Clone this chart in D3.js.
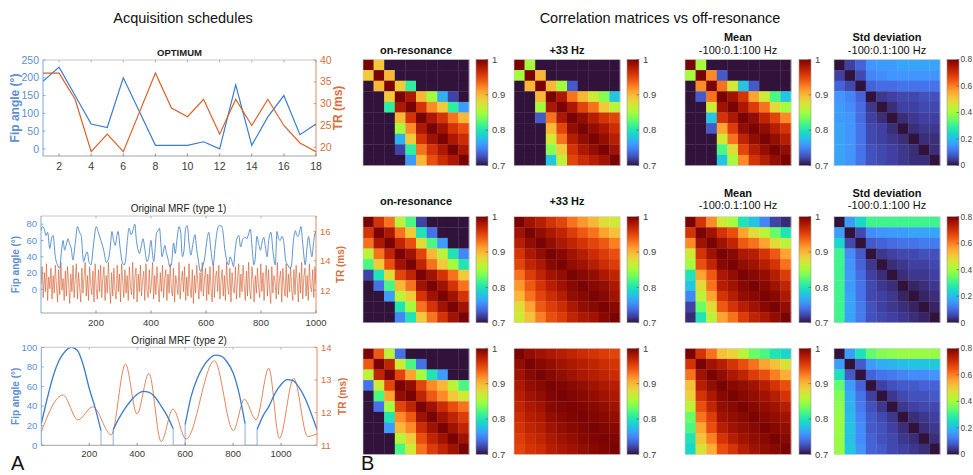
<!DOCTYPE html>
<html><head><meta charset="utf-8">
<script src="https://cdn.jsdelivr.net/npm/d3@7"></script>
<style>body{margin:0;background:#fff;} text{font-family:"Liberation Sans",Arial,Helvetica,sans-serif;}</style>
</head><body><svg id="c" width="973" height="475"></svg>
<script>
// ===== DATA =====
const optX  = [1,2,3,4,5,6,7,8,9,10,11,12,13,14,15,16,17,18];
const optFA = [190,230,150,70,60,200,105,10,10,10,20,0,180,10,90,150,40,70];
const optTR = [37,37,31,19,23,19,28,37,29,27,31,23,31,25,31,25,21,19];

const fa1T = [0,5,12,18,24,32,38,44,52,60,68,74,80,86,92,98,104,110,116,124,133,140,146,155,162,168,175,182,190,201,210,218,228,238,246,252,258,264,270,276,280,288,295,302,308,314,320,328,334,341,347,352,358,364,371,378,385,392,400,405,410,415,420,426,431,436,440,445,450,456,462,468,474,482,488,494,502,508,514,520,526,532,538,545,552,560,566,572,580,588,596,604,610,618,626,634,642,648,656,662,668,675,682,688,694,700,706,712,719,726,734,742,748,755,761,768,774,779,785,792,798,804,810,816,822,828,836,844,852,858,864,870,876,882,890,897,904,910,918,925,930,935,941,945,952,961,967,973,979,985,992,998,1000];
const fa1V = [72,77,74,66,70,50,62,66,40,30,26,45,60,48,55,62,56,50,36,55,77,70,66,34,42,46,33,30,52,77,68,60,48,33,38,52,71,60,54,66,71,50,34,30,37,60,75,67,72,80,60,50,44,52,62,48,34,40,60,45,34,50,69,72,75,55,40,46,54,45,37,28,30,57,44,60,77,70,40,48,75,78,58,42,55,67,50,36,22,28,40,62,70,48,30,55,74,78,78,70,50,36,30,40,35,28,48,62,66,52,62,64,62,68,74,50,30,38,65,55,48,58,64,52,40,60,70,45,30,71,62,60,65,60,35,30,26,28,60,72,66,65,72,77,55,30,50,65,52,40,60,70,68];
const tr1V = [
12.4,13.6,11.5,13.2,11.9,13.8,11.3,12.9,12.1,13.5,
11.4,13.0,11.8,13.7,12.3,11.2,13.4,11.7,13.9,12.0,
12.8,11.3,13.3,11.6,13.6,12.5,11.1,13.1,11.9,13.7,
11.5,12.7,13.8,11.4,13.2,12.2,11.2,13.5,11.8,12.9,
13.9,11.6,13.0,11.3,13.6,12.4,11.7,13.3,11.2,13.8,
12.1,11.4,13.4,11.9,13.7,11.5,12.8,13.6,11.3,13.0,
11.8,13.9,12.3,11.1,13.2,11.6,13.5,12.0,11.4,13.7,
11.9,13.1,11.2,13.8,12.6,11.5,13.4,11.8,13.0,11.3,
13.6,12.2,11.7,13.9,11.4,12.9,13.5,11.2,13.1,11.9,
13.7,11.6,12.7,13.3,11.3,13.8,12.0,11.5,13.4,11.8,
12.5,13.9,11.4,13.0,11.7,13.6,12.3,11.2,13.2,11.9,
13.7,11.5,12.8,13.4,11.3,13.1,11.8,13.8,12.1,11.6,
13.5,11.2,13.0,12.4,11.7,13.9,11.4,12.6,13.3,11.9,
13.6,11.3,12.9,11.6,13.8,12.2,11.5,13.4,11.1,13.0,
11.8,13.7,12.5,11.4,13.2,11.9,13.9,11.6,12.7,13.5,
11.3,13.1,11.7,13.6,12.0,11.2,13.8,11.5,12.9,13.3,
11.9,13.7,11.4,12.6,13.4,11.6,13.0,11.3,13.9,12.3,
11.7,13.5,11.2,13.2,12.1,11.8,13.6,11.4,12.8,13.8,
11.5,13.1,11.9,13.7,12.4,11.3,13.3,11.6,13.9,12.0,
11.4,13.6,12.7,11.2,13.0,11.8,13.5,12.2,11.5,13.8,
11.9,13.2,11.3,12.9,13.7,11.6,13.4,12.1,11.1,13.6,
11.8,13.0,12.5,11.4,13.9,11.7,12.8,13.3,11.2,13.5,
12.3,11.6,13.8,11.5,13.1,11.9,13.6,12.0,11.3,13.4,
11.7,13.7,12.6,11.2,13.2,11.8,13.9,11.4,12.9,13.5,
11.6,13.0,11.3,13.8,12.2,11.9,13.4,11.5,13.6,12.4];

const fa2T = [
 [0,25,50,75,100,125,150,175,200,225,249],
 [300,325,350,375,400,425,450,475,500,525,550],
 [600,625,650,675,700,725,750,775,800,825,850],
 [900,925,950,975,1000,1025,1050,1075,1100,1125,1150]];
const fa2V = [
 [22,48,71,87,96,100,97,82,58,38,15],
 [16,28,38,46,52,55,54,49,40,30,17],
 [21,50,68,80,88,92,91,85,74,53,22],
 [16,30,40,53,62,67,66,59,48,33,16]];
const tr2T = [0,90,153,215,292,351,399,449,500,549,604,722,801,847,896,949,993,1053,1111,1150];
const tr2V = [11.42,12.54,11.78,12.18,11.32,13.49,11.96,13.2,11.11,12.11,11.19,13.59,11.45,12.41,11.78,13.36,11.21,13.05,11.27,11.35];

// correlation matrices (rows: OPTIMUM, type 1, type 2)
const corrOn1 = [
[1,.89,.6,.6,.6,.6,.6,.6,.6,.6],
[.89,1,.90,.6,.6,.6,.6,.6,.6,.6],
[.6,.90,1,.89,.81,.6,.6,.6,.6,.6],
[.6,.6,.89,1,.98,.90,.85,.77,.72,.6],
[.6,.6,.81,.98,1,.96,.92,.89,.81,.76],
[.6,.6,.6,.90,.96,1,.98,.96,.93,.90],
[.6,.6,.6,.85,.92,.98,1,.985,.96,.945],
[.6,.6,.6,.77,.89,.96,.985,1,.98,.965],
[.6,.6,.6,.72,.81,.93,.96,.98,1,.98],
[.6,.6,.6,.6,.76,.90,.945,.965,.98,1]];
const corr33_1 = [
[1,.85,.6,.6,.6,.6,.6,.6,.6,.6],
[.85,1,.90,.6,.6,.6,.6,.6,.6,.6],
[.6,.90,1,.90,.85,.73,.6,.6,.6,.6],
[.6,.6,.90,1,.98,.93,.90,.87,.84,.78],
[.6,.6,.85,.98,1,.98,.95,.93,.89,.86],
[.6,.6,.73,.93,.98,1,.99,.975,.96,.95],
[.6,.6,.6,.90,.95,.99,1,.99,.98,.965],
[.6,.6,.6,.87,.93,.975,.99,1,.99,.975],
[.6,.6,.6,.84,.89,.96,.98,.99,1,.985],
[.6,.6,.6,.78,.86,.95,.965,.975,.985,1]];
const corrMean1 = [
[1,.85,.6,.6,.6,.6,.6,.6,.6,.6],
[.85,1,.92,.73,.6,.6,.6,.6,.6,.6],
[.6,.92,1,.93,.87,.78,.73,.6,.6,.6],
[.6,.73,.93,1,.985,.96,.91,.87,.82,.78],
[.6,.6,.87,.985,1,.98,.955,.93,.88,.85],
[.6,.6,.78,.96,.98,1,.99,.97,.95,.92],
[.6,.6,.73,.91,.955,.99,1,.99,.975,.96],
[.6,.6,.6,.87,.93,.97,.99,1,.99,.975],
[.6,.6,.6,.82,.88,.95,.975,.99,1,.99],
[.6,.6,.6,.78,.85,.92,.96,.975,.99,1]];
const corrStd1 = [
[0,.05,.09,.15,.16,.16,.17,.17,.17,.17],
[.05,0,.06,.13,.14,.15,.15,.15,.15,.15],
[.09,.06,0,.09,.1,.1,.11,.11,.11,.11],
[.15,.13,.09,0,.04,.05,.06,.06,.07,.07],
[.16,.14,.1,.04,0,.03,.05,.05,.06,.06],
[.16,.15,.1,.05,.03,0,.03,.04,.05,.05],
[.17,.15,.11,.06,.05,.03,0,.03,.04,.04],
[.17,.15,.11,.06,.05,.04,.03,0,.03,.03],
[.17,.15,.11,.07,.06,.05,.04,.03,0,.03],
[.17,.15,.11,.07,.06,.05,.04,.03,.03,0]];
const corrOn2 = [
[1,.96,.93,.86,.82,.72,.6,.6,.6,.6],
[.96,1,.98,.93,.89,.80,.74,.6,.6,.6],
[.93,.98,1,.97,.945,.88,.82,.76,.6,.6],
[.86,.93,.97,1,.985,.95,.90,.86,.80,.75],
[.82,.89,.945,.985,1,.97,.93,.89,.85,.80],
[.72,.80,.88,.95,.97,1,.985,.96,.93,.89],
[.6,.74,.82,.90,.93,.985,1,.985,.96,.93],
[.6,.6,.76,.86,.89,.96,.985,1,.985,.96],
[.6,.6,.6,.80,.85,.93,.96,.985,1,.985],
[.6,.6,.6,.75,.80,.89,.93,.96,.985,1]];
const corr33_2 = [
[1,.985,.975,.96,.95,.93,.915,.90,.88,.87],
[.985,1,.99,.98,.97,.955,.94,.93,.91,.895],
[.975,.99,1,.99,.98,.97,.96,.95,.94,.925],
[.96,.98,.99,1,.995,.985,.975,.965,.955,.945],
[.95,.97,.98,.995,1,.99,.985,.975,.965,.955],
[.93,.955,.97,.985,.99,1,.995,.99,.98,.97],
[.915,.94,.96,.975,.985,.995,1,.995,.99,.98],
[.90,.93,.95,.965,.975,.99,.995,1,.995,.985],
[.88,.91,.94,.955,.965,.98,.99,.995,1,.995],
[.87,.895,.925,.945,.955,.97,.98,.985,.995,1]];
const corrMean2 = [
[1,.96,.92,.87,.85,.80,.78,.75,.72,.71],
[.96,1,.985,.96,.945,.91,.88,.86,.83,.80],
[.92,.985,1,.985,.97,.94,.93,.91,.88,.86],
[.87,.96,.985,1,.995,.98,.975,.96,.94,.91],
[.85,.945,.97,.995,1,.99,.985,.975,.96,.93],
[.80,.91,.94,.98,.99,1,.995,.99,.975,.955],
[.78,.88,.93,.975,.985,.995,1,.995,.985,.97],
[.75,.86,.91,.96,.975,.99,.995,1,.995,.98],
[.72,.83,.88,.94,.96,.975,.985,.995,1,.99],
[.71,.80,.86,.91,.93,.955,.97,.98,.99,1]];
const corrStd2 = [
[0,.16,.24,.31,.31,.31,.31,.31,.31,.31],
[.16,0,.06,.14,.15,.16,.16,.17,.17,.17],
[.24,.06,0,.08,.09,.1,.11,.11,.12,.12],
[.31,.14,.08,0,.04,.05,.06,.06,.07,.07],
[.31,.15,.09,.04,0,.03,.04,.05,.05,.06],
[.31,.16,.1,.05,.03,0,.03,.04,.04,.05],
[.31,.16,.11,.06,.04,.03,0,.02,.03,.04],
[.31,.17,.11,.06,.05,.04,.02,0,.02,.03],
[.31,.17,.12,.07,.05,.04,.03,.02,0,.02],
[.31,.17,.12,.07,.06,.05,.04,.03,.02,0]];
const corrOn3 = [
[1,.94,.86,.74,.6,.6,.6,.6,.6,.6],
[.94,1,.97,.87,.82,.74,.6,.6,.6,.6],
[.86,.97,1,.95,.91,.85,.80,.76,.6,.6],
[.74,.87,.95,1,.99,.95,.92,.90,.86,.82],
[.6,.82,.91,.99,1,.97,.94,.92,.89,.87],
[.6,.74,.85,.95,.97,1,.985,.965,.945,.93],
[.6,.6,.80,.92,.94,.985,1,.985,.97,.955],
[.6,.6,.76,.90,.92,.965,.985,1,.985,.97],
[.6,.6,.6,.86,.89,.945,.97,.985,1,.985],
[.6,.6,.6,.82,.87,.93,.955,.97,.985,1]];
const corr33_3 = [
[1,.99,.985,.98,.975,.97,.965,.96,.955,.95],
[.99,1,.995,.99,.985,.98,.975,.97,.965,.96],
[.985,.995,1,.995,.99,.985,.98,.975,.97,.965],
[.98,.99,.995,1,.998,.995,.99,.985,.98,.975],
[.975,.985,.99,.998,1,.998,.995,.99,.985,.98],
[.97,.98,.985,.995,.998,1,.998,.995,.99,.985],
[.965,.975,.98,.99,.995,.998,1,.998,.995,.99],
[.96,.97,.975,.985,.99,.995,.998,1,.998,.995],
[.955,.965,.97,.98,.985,.99,.995,.998,1,.998],
[.95,.96,.965,.975,.98,.985,.99,.995,.998,1]];
const corrMean3 = [
[1,.96,.93,.895,.885,.86,.83,.82,.80,.79],
[.96,1,.985,.975,.96,.945,.93,.91,.895,.875],
[.93,.985,1,.99,.98,.97,.955,.945,.925,.905],
[.895,.975,.99,1,.995,.99,.985,.975,.96,.945],
[.885,.96,.98,.995,1,.995,.99,.985,.975,.96],
[.86,.945,.97,.99,.995,1,.995,.99,.985,.975],
[.83,.93,.955,.985,.99,.995,1,.995,.99,.985],
[.82,.91,.945,.975,.985,.99,.995,1,.995,.99],
[.80,.895,.925,.96,.975,.985,.99,.995,1,.995],
[.79,.875,.905,.945,.96,.975,.985,.99,.995,1]];
const corrStd3 = [
[0,.16,.26,.34,.37,.38,.39,.39,.39,.39],
[.16,0,.08,.16,.18,.19,.2,.21,.21,.22],
[.26,.08,0,.09,.11,.12,.13,.14,.14,.15],
[.34,.16,.09,0,.05,.07,.08,.08,.09,.09],
[.37,.18,.11,.05,0,.04,.06,.07,.07,.08],
[.38,.19,.12,.07,.04,0,.04,.05,.06,.06],
[.39,.2,.13,.08,.06,.04,0,.03,.04,.05],
[.39,.21,.14,.08,.07,.05,.03,0,.03,.04],
[.39,.21,.14,.09,.07,.06,.04,.03,0,.03],
[.39,.22,.15,.09,.08,.06,.05,.04,.03,0]];

const corrTicks = [0.7,0.8,0.9,1];
const stdTicks = [0,0.2,0.4,0.6,0.8];

// ===== DRAW =====
const svg = d3.select("#c");
const BLUE = "#3b7ccc", ORANGE = "#da5f28", BLUE_T = "#5c8fd2", ORANGE_T = "#d4703e";

svg.append("text").attr("x",183).attr("y",23).attr("text-anchor","middle").style("font-size","14.5px").attr("fill","#111").text("Acquisition schedules");
svg.append("text").attr("x",660).attr("y",23).attr("text-anchor","middle").style("font-size","14.5px").attr("fill","#111").text("Correlation matrices vs off-resonance");

let clipN = 0;
function dualPlot(o) {
  const g = svg.append("g");
  const x = d3.scaleLinear().domain(o.xd).range([o.x0, o.x1]);
  const yl = d3.scaleLinear().domain(o.yld).range([o.y1, o.y0]);
  const yr = d3.scaleLinear().domain(o.yrd).range([o.y1, o.y0]);
  const id = "clip" + (clipN++);
  g.append("clipPath").attr("id", id).append("rect")
    .attr("x", o.x0).attr("y", o.y0).attr("width", o.x1 - o.x0).attr("height", o.y1 - o.y0);
  const lg = g.append("g").attr("clip-path", `url(#${id})`);
  o.draw(lg, x, yl, yr);
  g.append("line").attr("x1",o.x0).attr("x2",o.x1).attr("y1",o.y0).attr("y2",o.y0).attr("stroke","#b8b8b8").attr("stroke-width",0.8);
  g.append("line").attr("x1",o.x0).attr("x2",o.x1).attr("y1",o.y1).attr("y2",o.y1).attr("stroke","#8a8a8a").attr("stroke-width",0.8);
  g.append("line").attr("x1",o.x0).attr("x2",o.x0).attr("y1",o.y0).attr("y2",o.y1).attr("stroke",BLUE_T).attr("stroke-width",0.8);
  g.append("line").attr("x1",o.x1).attr("x2",o.x1).attr("y1",o.y0).attr("y2",o.y1).attr("stroke",ORANGE_T).attr("stroke-width",0.8);
  o.xt.forEach(t => {
    const px = x(t);
    g.append("line").attr("x1",px).attr("x2",px).attr("y1",o.y1).attr("y2",o.y1-2.5).attr("stroke","#666").attr("stroke-width",0.7);
    g.append("line").attr("x1",px).attr("x2",px).attr("y1",o.y0).attr("y2",o.y0+2.5).attr("stroke","#999").attr("stroke-width",0.7);
    g.append("text").attr("x",px).attr("y",o.xly).attr("text-anchor","middle").style("font-size",o.tfs+"px").attr("fill","#3a3a3a").text(t);
  });
  o.ylt.forEach(t => {
    const py = yl(t);
    g.append("line").attr("x1",o.x0).attr("x2",o.x0+2.5).attr("y1",py).attr("y2",py).attr("stroke",BLUE_T).attr("stroke-width",0.7);
    g.append("text").attr("x",o.x0-4).attr("y",py).attr("dy","0.35em").attr("text-anchor","end").style("font-size",o.tfs+"px").attr("fill",BLUE_T).text(t);
  });
  o.yrt.forEach(t => {
    const py = yr(t);
    g.append("line").attr("x1",o.x1).attr("x2",o.x1-2.5).attr("y1",py).attr("y2",py).attr("stroke",ORANGE_T).attr("stroke-width",0.7);
    g.append("text").attr("x",o.x1+4).attr("y",py).attr("dy","0.35em").attr("text-anchor","start").style("font-size",o.tfs+"px").attr("fill",ORANGE_T).text(t);
  });
  const cy = (o.y0 + o.y1) / 2;
  g.append("text").attr("transform",`translate(${o.lx},${cy}) rotate(-90)`).attr("text-anchor","middle").attr("dy","0.35em")
    .style("font-size",o.lfs+"px").style("font-weight","bold").attr("fill",BLUE_T).text("Fip angle (°)");
  g.append("text").attr("transform",`translate(${o.rx},${cy}) rotate(-90)`).attr("text-anchor","middle").attr("dy","0.35em")
    .style("font-size",o.lfs+"px").style("font-weight","bold").attr("fill",ORANGE_T).text("TR (ms)");
  g.append("text").attr("x",(o.x0+o.x1)/2).attr("y",o.ty).attr("text-anchor","middle")
    .style("font-size",o.titfs+"px").style("font-weight",o.titbold?"bold":"normal").attr("fill","#222").text(o.title);
}

dualPlot({
  x0:43, x1:316, y0:60, y1:156, xd:[1,18], yld:[-20,250], yrd:[18,40],
  xt:[2,4,6,8,10,12,14,16,18], ylt:[0,50,100,150,200,250], yrt:[20,25,30,35,40],
  xly:169.5, tfs:10.5, lfs:12, lx:15, rx:338, ty:55.5, title:"OPTIMUM", titfs:9.5, titbold:true,
  draw:(g,x,yl,yr)=>{
    g.append("path").datum(optX).attr("fill","none").attr("stroke",BLUE).attr("stroke-width",1.2)
      .attr("d", d3.line().x(d=>x(d)).y((d,i)=>yl(optFA[i])));
    g.append("path").datum(optX).attr("fill","none").attr("stroke",ORANGE).attr("stroke-width",1.2)
      .attr("d", d3.line().x(d=>x(d)).y((d,i)=>yr(optTR[i])));
  }
});

dualPlot({
  x0:41, x1:316, y0:216, y1:313, xd:[0,1000], yld:[-29,90], yrd:[10.45,17.05],
  xt:[200,400,600,800,1000], ylt:[0,20,40,60,80], yrt:[12,14,16],
  xly:325.5, tfs:9.5, lfs:10, lx:15, rx:340, ty:212, title:"Original MRF (type 1)", titfs:10, titbold:false,
  draw:(g,x,yl,yr)=>{
    g.append("path").datum(tr1V).attr("fill","none").attr("stroke","#d05522").attr("stroke-width",0.7).attr("stroke-opacity",0.85)
      .attr("d", d3.line().x((d,i)=>x(i*1000/(tr1V.length-1))).y(d=>yr(d)));
    g.append("path").datum(fa1T).attr("fill","none").attr("stroke","#4a86cc").attr("stroke-width",0.9)
      .attr("d", d3.line().curve(d3.curveMonotoneX).x(d=>x(d)).y((d,i)=>yl(fa1V[i])));
  }
});

dualPlot({
  x0:41.3, x1:317, y0:347.3, y1:445.3, xd:[0,1150], yld:[0,100], yrd:[11,14],
  xt:[200,400,600,800,1000], ylt:[0,20,40,60,80,100], yrt:[11,12,13,14],
  xly:457, tfs:9.5, lfs:10, lx:15, rx:342, ty:343.5, title:"Original MRF (type 2)", titfs:10, titbold:false,
  draw:(g,x,yl,yr)=>{
    g.append("path").datum(tr2T).attr("fill","none").attr("stroke","#e0865c").attr("stroke-width",1)
      .attr("d", d3.line().curve(d3.curveMonotoneX).x(d=>x(d)).y((d,i)=>yr(tr2V[i])));
    fa2T.forEach((seg, s) => {
      g.append("path").datum(seg).attr("fill","none").attr("stroke",BLUE).attr("stroke-width",1.3)
        .attr("d", d3.line().curve(d3.curveMonotoneX).x(d=>x(d)).y((d,i)=>yl(fa2V[s][i])));
      if (s < fa2T.length - 1) {
        const tEnd = seg[seg.length-1], vEnd = fa2V[s][seg.length-1];
        const tNext = fa2T[s+1][0], vNext = fa2V[s+1][0];
        g.append("path").attr("fill","none").attr("stroke",BLUE).attr("stroke-width",1).attr("stroke-opacity",0.6)
          .attr("d", d3.line()([[x(tEnd),yl(vEnd)],[x(tEnd),yl(0)],[x(tNext),yl(0)],[x(tNext),yl(vNext)]]));
      }
    });
  }
});

// Panel labels
svg.append("text").attr("x",11).attr("y",470).style("font-size","20px").attr("fill","#111").text("A");
svg.append("text").attr("x",361).attr("y",470).style("font-size","20px").attr("fill","#111").text("B");

// ===== Matrices =====
const turboStops = ["#30123b","#4040a2","#466be3","#4294ff","#28bceb","#18ddc2","#32f298","#6dfe62","#a4fc3c","#cdec34","#eecf3a","#fdac34","#fb7e21","#eb500e","#d02f05","#a91601","#7a0403"];
const turbo = d3.piecewise(d3.interpolateRgb, turboStops);
const corrScale = d3.scaleSequential(turbo).domain([0.7,1]).clamp(true);
const stdScale = d3.scaleSequential(turbo).domain([0,0.8]).clamp(true);

const colX = [363, 514, 685, 834];
const cbX  = [476, 627, 799, 947];
const rowY = [59.5, 216.7, 348.3];
const SZ = 106;

const band = d3.scaleBand().domain(d3.range(10)).range([0, SZ]);

const defs = svg.append("defs");
function gradient(id, scale) {
  const lg = defs.append("linearGradient").attr("id", id).attr("x1",0).attr("y1",1).attr("x2",0).attr("y2",0);
  const [a,b] = scale.domain();
  d3.range(0, 1.0001, 0.05).forEach(f => lg.append("stop").attr("offset", f).attr("stop-color", scale(a + f*(b-a))));
}
gradient("gCorr", corrScale);
gradient("gStd", stdScale);

function drawMatrix(M, mx, my, scale) {
  const g = svg.append("g").attr("transform", `translate(${mx},${my})`);
  M.forEach((row, r) => row.forEach((v, c) => {
    g.append("rect").attr("x", band(c)).attr("y", band(r))
      .attr("width", band.bandwidth()+0.3).attr("height", band.bandwidth()+0.3).attr("fill", scale(v));
  }));
  g.append("rect").attr("width",SZ).attr("height",SZ).attr("fill","none").attr("stroke","#d0d0d0").attr("stroke-width",0.6);
}
function drawColorbar(cx, cy, scale, ticks, gid, fs, gap) {
  const y = d3.scaleLinear().domain(scale.domain()).range([cy+SZ, cy]);
  svg.append("rect").attr("x",cx).attr("y",cy).attr("width",12).attr("height",SZ).attr("fill",`url(#${gid})`)
    .attr("stroke","#9a9a9a").attr("stroke-width",0.6);
  ticks.forEach(t => {
    svg.append("line").attr("x1",cx+12).attr("x2",cx+9.5).attr("y1",y(t)).attr("y2",y(t)).attr("stroke","#555").attr("stroke-width",0.6);
    svg.append("text").attr("x",cx+12+gap).attr("y",y(t)).attr("dy","0.35em").style("font-size",fs+"px").attr("fill","#444").text(t);
  });
}

const mats = [
  [corrOn1, corr33_1, corrMean1, corrStd1],
  [corrOn2, corr33_2, corrMean2, corrStd2],
  [corrOn3, corr33_3, corrMean3, corrStd3]];
mats.forEach((row, r) => row.forEach((M, c) => {
  const isStd = c === 3;
  drawMatrix(M, colX[c], rowY[r], isStd ? stdScale : corrScale);
  drawColorbar(cbX[c], rowY[r], isStd ? stdScale : corrScale, isStd ? stdTicks : corrTicks,
    isStd ? "gStd" : "gCorr", isStd ? 8.3 : 9.5, isStd ? 1.5 : 4);
}));

function title(txt, cx, y, bold) {
  svg.append("text").attr("x",cx).attr("y",y).attr("text-anchor","middle").style("font-size","11px")
    .style("font-weight", bold ? "bold" : "normal").attr("fill","#111").text(txt);
}
const cxs = colX.map(v => v + SZ/2);
title("on-resonance", cxs[0], 54, true);
title("+33 Hz", cxs[1], 54, true);
title("Mean", cxs[2], 41, true);
title("-100:0.1:100 Hz", cxs[2], 54, false);
title("Std deviation", cxs[3], 41, true);
title("-100:0.1:100 Hz", cxs[3], 54, false);
title("on-resonance", cxs[0], 205, true);
title("+33 Hz", cxs[1], 205, true);
title("Mean", cxs[2], 197, true);
title("-100:0.1:100 Hz", cxs[2], 209, false);
title("Std deviation", cxs[3], 197, true);
title("-100:0.1:100 Hz", cxs[3], 209, false);
</script></body></html>
